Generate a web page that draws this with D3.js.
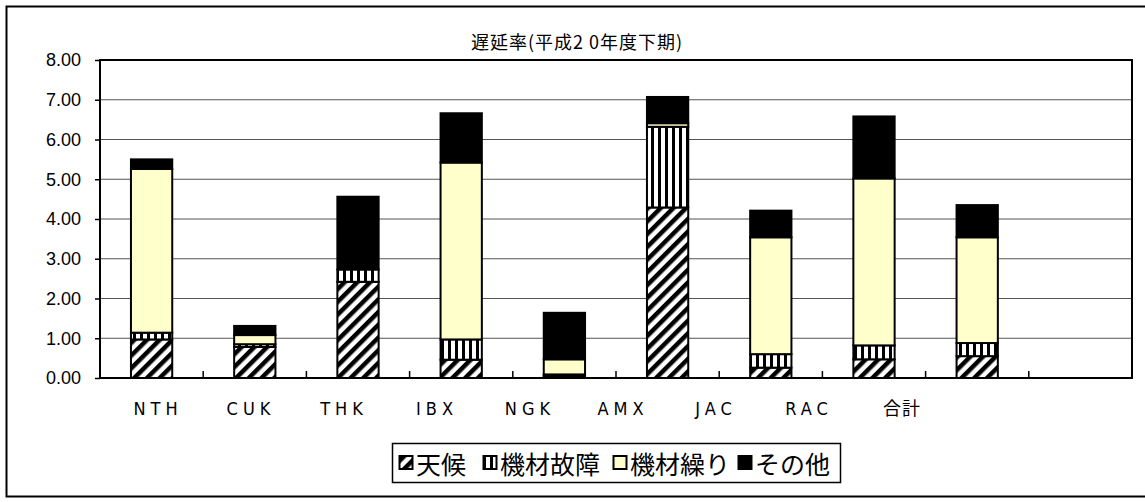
<!DOCTYPE html>
<html>
<head>
<meta charset="utf-8">
<script src="https://cdn.jsdelivr.net/npm/d3@7"></script>
<style>
  body { margin: 0; background: #fff; }
  svg { display: block; }
</style>
</head>
<body>
<svg id="chart" width="1145" height="502"></svg>
<script>
// Data
const categories = ['NTH', 'CUK', 'THK', 'IBX', 'NGK', 'AMX', 'JAC', 'RAC', '合計', ''];
const seriesNames = ['天候', '機材故障', '機材繰り', 'その他'];
const weather   = [0.97, 0.78, 2.42, 0.46, 0.05, 4.29, 0.26, 0.47, 0.55];
const equipment = [0.17, 0.07, 0.31, 0.51, 0.04, 2.03, 0.34, 0.35, 0.33];
const rotation  = [4.12, 0.23, 0.00, 4.45, 0.38, 0.09, 2.94, 4.20, 2.66];
const other     = [0.24, 0.23, 1.83, 1.24, 1.17, 0.66, 0.67, 1.56, 0.81];
const yTicks = [0, 1, 2, 3, 4, 5, 6, 7, 8];

const svg = d3.select('#chart');
const W = 1145;
const plot = { left: 100, top: 60, right: 1132, bottom: 378 };

// outer frame
svg.append('rect')
  .attr('x', 6.5).attr('y', 6.5)
  .attr('width', W + 10).attr('height', 490)
  .attr('fill', 'none').attr('stroke', '#000').attr('stroke-width', 2);

// patterns
const defs = svg.append('defs');
const diag = defs.append('pattern')
  .attr('id', 'diag').attr('patternUnits', 'userSpaceOnUse')
  .attr('width', 9).attr('height', 9)
  .attr('patternTransform', 'rotate(45)');
diag.append('rect').attr('width', 9).attr('height', 9).attr('fill', '#fff');
diag.append('rect').attr('width', 4.5).attr('height', 9).attr('fill', '#000');

const vert = defs.append('pattern')
  .attr('id', 'vert').attr('patternUnits', 'userSpaceOnUse')
  .attr('width', 7).attr('height', 7);
vert.append('rect').attr('width', 7).attr('height', 7).attr('fill', '#fff');
vert.append('rect').attr('width', 3).attr('height', 7).attr('fill', '#000');

const fills = ['url(#diag)', 'url(#vert)', '#ffffcc', '#000'];

const x = d3.scaleBand()
  .domain(d3.range(categories.length))
  .range([plot.left, plot.right])
  .paddingInner(0.6).paddingOuter(0.3);
const xSlot = d3.scaleLinear()
  .domain([0, categories.length])
  .range([plot.left, plot.right]);
const y = d3.scaleLinear().domain([0, 8]).range([plot.bottom, plot.top]);

// gridlines
svg.append('g').selectAll('line')
  .data(yTicks.slice(1, -1))
  .join('line')
  .attr('x1', plot.left).attr('x2', plot.right)
  .attr('y1', d => y(d)).attr('y2', d => y(d))
  .attr('stroke', '#555').attr('stroke-width', 1.2);

// stacked bars
const rows = weather.map((w, i) => ({ i, v: [w, equipment[i], rotation[i], other[i]] }));
const stack = d3.stack().keys([0, 1, 2, 3]).value((d, k) => d.v[k]);
const layers = stack(rows);

svg.append('g').selectAll('g')
  .data(layers)
  .join('g')
  .attr('fill', (d, k) => fills[k])
  .selectAll('rect')
  .data(d => d.filter(s => s[1] - s[0] > 0))
  .join('rect')
  .attr('x', d => x(d.data.i))
  .attr('width', x.bandwidth())
  .attr('y', d => y(d[1]))
  .attr('height', d => y(d[0]) - y(d[1]))
  .attr('stroke', '#000').attr('stroke-width', 2);

// plot frame
svg.append('rect')
  .attr('x', plot.left).attr('y', plot.top)
  .attr('width', plot.right - plot.left).attr('height', plot.bottom - plot.top)
  .attr('fill', 'none').attr('stroke', '#000').attr('stroke-width', 2);

// y axis
const yAxis = svg.append('g')
  .attr('transform', `translate(${plot.left},0)`)
  .call(d3.axisLeft(y).tickValues(yTicks).tickFormat(d3.format('.2f')).tickSize(5).tickPadding(14));
yAxis.select('.domain').remove();
yAxis.selectAll('line').attr('stroke', '#000').attr('stroke-width', 1.5);
yAxis.selectAll('text')
  .attr('font-family', 'Liberation Sans, Arial, sans-serif')
  .attr('font-size', 18).attr('fill', '#000');

// x ticks at category boundaries, pointing up
svg.append('g').selectAll('line')
  .data(d3.range(1, categories.length))
  .join('line')
  .attr('x1', d => xSlot(d)).attr('x2', d => xSlot(d))
  .attr('y1', plot.bottom).attr('y2', plot.bottom - 7)
  .attr('stroke', '#000').attr('stroke-width', 1.5);

// x labels (Excel places them on a slightly tighter pitch)
const xLabel = d3.scaleLinear().domain([0, 8]).range([158, 902]);
svg.append('g').selectAll('text')
  .data(categories.filter(c => c))
  .join('text')
  .attr('x', (d, i) => xLabel(i))
  .attr('y', 415)
  .attr('text-anchor', 'middle')
  .attr('font-family', d => d === '合計'
    ? '"Noto Sans CJK JP", sans-serif'
    : '"DejaVu Sans Condensed", sans-serif')
  .attr('font-size', 18)
  .attr('letter-spacing', d => d === '合計' ? 1 : 5)
  .text(d => d);

// title
svg.append('text')
  .attr('x', 577).attr('y', 49)
  .attr('text-anchor', 'middle')
  .attr('font-family', '"Noto Sans CJK JP", sans-serif')
  .attr('font-size', 18)
  .attr('letter-spacing', 1)
  .text('遅延率(平成2 0年度下期)');

// legend
const lg = svg.append('g');
lg.append('rect')
  .attr('x', 392.5).attr('y', 443.5).attr('width', 448).attr('height', 39)
  .attr('fill', '#fff').attr('stroke', '#000').attr('stroke-width', 1.5);
const legendX = [399, 483, 613, 738];
const items = lg.selectAll('g.item')
  .data(seriesNames)
  .join('g').attr('class', 'item')
  .attr('transform', (d, i) => `translate(${legendX[i]},0)`);
items.append('rect')
  .attr('x', 0.5).attr('y', 456).attr('width', 13).attr('height', 13)
  .attr('fill', (d, i) => fills[i]).attr('stroke', '#000').attr('stroke-width', 2);
items.append('text')
  .attr('x', 17).attr('y', 474)
  .attr('font-family', '"Noto Sans CJK JP", sans-serif')
  .attr('font-size', 25)
  .text(d => d);
</script>
</body>
</html>
